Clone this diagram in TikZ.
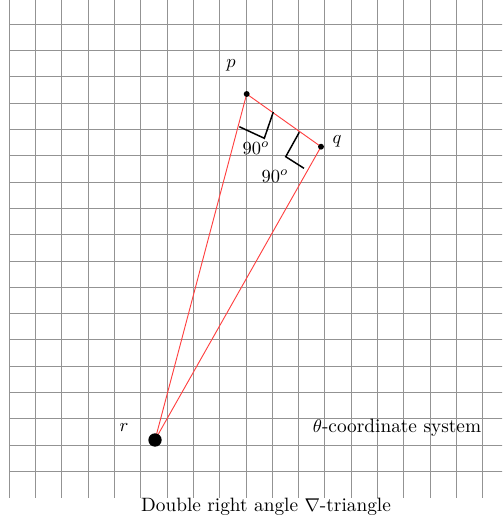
\documentclass[tikz,border=0pt]{standalone}
\begin{document}
\begin{tikzpicture}[
  gridline/.style={gray!85, line width=0.45pt},
  side/.style={red!75, line width=0.5pt},
  ramark/.style={black, line width=0.8pt},
  lbl/.style={inner sep=0pt, font=\fontsize{10.45}{12.5}\selectfont}
]
\useasboundingbox (-0.177,-0.519) rectangle (9.367,9.462);
\begin{scope}
\clip (-0.177,-0.519) rectangle (9.367,9.462);
\draw[gridline] (0,0.001) grid[step=0.5] (9.8,9.8);
\end{scope}
% vertices
\coordinate (p) at (4.513,7.675);
\coordinate (q) at (5.926,6.673);
\coordinate (r) at (2.770,1.097);
% sides
\draw[side] (p) -- (q);
\draw[side] (p) -- (r);
\draw[side] (q) -- (r);
% right angle marks
\coordinate (a1) at (4.373,7.053);
\coordinate (c1) at (4.848,6.833);
\coordinate (b1) at (5.019,7.333);
\coordinate (a2) at (5.513,6.947);
\coordinate (c2) at (5.255,6.483);
\coordinate (b2) at (5.603,6.262);
\draw[ramark] (a1) -- (c1) -- (b1);
\draw[ramark] (a2) -- (c2) -- (b2);
% dots
\fill (p) circle (1.6pt);
\fill (q) circle (1.6pt);
\fill (r) circle (3.6pt);
% labels
\node[lbl] (lp) at (4.215,8.22) {$p$};
\node[lbl] (lq) at (6.23,6.78) {$q$};
\node[lbl] (lr) at (2.18,1.325) {$r$};
\node[lbl] (n1) at (4.69,6.65) {$90^o$};
\node[lbl] (n2) at (5.05,6.11) {$90^o$};
\node[lbl] (sys) at (7.37,1.325) {$\theta$-coordinate system};
\node[lbl] (cap) at (4.88,-0.177) {Double right angle $\nabla$-triangle};
\end{tikzpicture}
\end{document}
